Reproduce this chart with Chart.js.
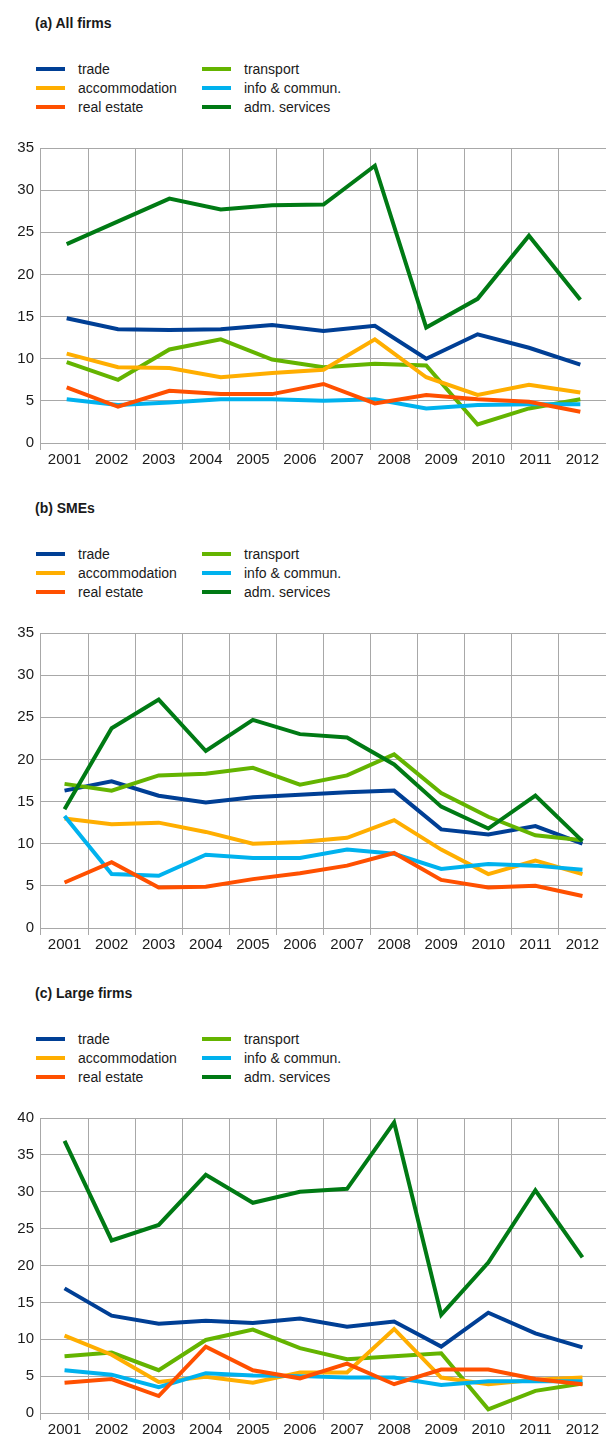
<!DOCTYPE html>
<html>
<head>
<meta charset="utf-8">
<title>Sector shares</title>
<script src="https://cdn.jsdelivr.net/npm/chart.js@4.4.1/dist/chart.umd.min.js"></script>
<style>
  body { margin: 0; width: 606px; background: #fff; font-family: "Liberation Sans", Arial, sans-serif; color: #1a1a1a; }
  .panel { position: relative; height: 485px; }
  .panel h3 { position: absolute; left: 35px; top: 15px; margin: 0; font-size: 14px; line-height: 17px; font-weight: bold; }
  .legend { position: absolute; left: 36px; top: 59px; display: grid; grid-template-columns: 166px 166px; grid-auto-rows: 19px; font-size: 14px; }
  .legend div { display: flex; align-items: center; white-space: nowrap; }
  .legend span { display: inline-block; width: 29px; height: 4px; margin-right: 13px; }
  .chart-box { position: absolute; left: 0; top: 132px; }
</style>
</head>
<body>

<div class="panel">
  <h3>(a) All firms</h3>
  <div class="legend" id="legendA"></div>
  <div class="chart-box"><canvas id="chartA" width="606" height="340"></canvas></div>
</div>
<div class="panel">
  <h3>(b) SMEs</h3>
  <div class="legend" id="legendB"></div>
  <div class="chart-box"><canvas id="chartB" width="606" height="340"></canvas></div>
</div>
<div class="panel">
  <h3>(c) Large firms</h3>
  <div class="legend" id="legendC"></div>
  <div class="chart-box"><canvas id="chartC" width="606" height="340"></canvas></div>
</div>

<script>
const years = ['2001', '2002', '2003', '2004', '2005', '2006', '2007', '2008', '2009', '2010', '2011', '2012'];
// the all-firms series only has 11 points, spread evenly over the axis
const allFirmsSlots = ['1', '2', '3', '4', '5', '6', '7', '8', '9', '10', '11'];

const seriesNames = ['trade', 'transport', 'accommodation', 'info & commun.', 'real estate', 'adm. services'];
const seriesColors = ['#003f95', '#64b400', '#ffae00', '#00b2ee', '#ff5000', '#007a14'];

// (a) All firms
const tradeA = [14.8, 13.5, 13.4, 13.5, 14.0, 13.3, 13.9, 10.0, 12.9, 11.3, 9.3];
const transportA = [9.6, 7.5, 11.1, 12.3, 9.9, 9.0, 9.4, 9.2, 2.2, 4.1, 5.2];
const accommodationA = [10.6, 9.0, 8.9, 7.8, 8.3, 8.7, 12.3, 7.8, 5.7, 6.9, 6.0];
const infoA = [5.2, 4.5, 4.8, 5.2, 5.2, 5.0, 5.2, 4.1, 4.5, 4.6, 4.6];
const realEstateA = [6.6, 4.3, 6.2, 5.8, 5.8, 7.0, 4.7, 5.7, 5.2, 4.9, 3.7];
const admA = [23.6, 26.3, 29.0, 27.7, 28.2, 28.3, 32.9, 13.7, 17.1, 24.6, 17.0];

// (b) SMEs
const tradeB = [16.3, 17.4, 15.7, 14.9, 15.5, 15.8, 16.1, 16.3, 11.7, 11.1, 12.1, 10.0];
const transportB = [17.1, 16.3, 18.1, 18.3, 19.0, 17.0, 18.1, 20.6, 16.0, 13.2, 11.0, 10.4];
const accommodationB = [13.0, 12.3, 12.5, 11.4, 10.0, 10.2, 10.7, 12.8, 9.3, 6.4, 8.0, 6.4];
const infoB = [13.3, 6.4, 6.2, 8.7, 8.3, 8.3, 9.3, 8.8, 7.0, 7.6, 7.4, 6.9];
const realEstateB = [5.4, 7.8, 4.8, 4.9, 5.8, 6.5, 7.4, 8.9, 5.7, 4.8, 5.0, 3.8];
const admB = [14.1, 23.7, 27.1, 21.0, 24.7, 23.0, 22.6, 19.4, 14.4, 11.8, 15.7, 10.3];

// (c) Large firms
const tradeC = [16.9, 13.2, 12.1, 12.5, 12.2, 12.8, 11.7, 12.4, 9.0, 13.6, 10.8, 8.9];
const transportC = [7.7, 8.2, 5.8, 9.9, 11.3, 8.8, 7.3, 7.7, 8.1, 0.5, 3.0, 4.0];
const accommodationC = [10.5, 7.9, 4.2, 4.9, 4.1, 5.5, 5.5, 11.4, 4.8, 3.9, 4.5, 4.8];
const infoC = [5.8, 5.2, 3.5, 5.4, 5.1, 5.0, 4.8, 4.8, 3.8, 4.3, 4.3, 4.3];
const realEstateC = [4.1, 4.6, 2.3, 9.0, 5.8, 4.7, 6.7, 3.9, 5.9, 5.9, 4.6, 3.9];
const admC = [36.9, 23.4, 25.5, 32.3, 28.5, 30.0, 30.4, 39.4, 13.3, 20.4, 30.2, 21.1];

Chart.defaults.font.family = '"Liberation Sans", Arial, sans-serif';
Chart.defaults.color = '#1a1a1a';

const gridColor = '#a8a8a8';

function drawPanel(canvasId, legendId, series, yMax, slots) {
  const ctx = document.getElementById(canvasId).getContext('2d');

  const datasets = series.map((values, i) => ({
    label: seriesNames[i],
    data: values,
    borderColor: seriesColors[i],
    backgroundColor: seriesColors[i],
    borderWidth: 4,
    pointRadius: 0,
    tension: 0,
    fill: false,
    order: -i, // later series on top
    xAxisID: slots ? 'xs' : 'x'
  }));

  const scales = {
    x: {
      type: 'category',
      labels: years,
      offset: true,
      grid: { offset: true, color: gridColor, tickLength: 7 },
      border: { display: false },
      ticks: { font: { size: 15 }, padding: 1, maxRotation: 0, autoSkip: false },
      afterFit: scale => { scale.height = 29; }
    },
    y: {
      min: 0,
      max: yMax,
      ticks: { stepSize: 5, font: { size: 15 }, padding: 7 },
      grid: { color: gridColor, drawTicks: false },
      border: { display: false },
      afterFit: scale => { scale.width = 41; }
    }
  };
  if (slots) {
    scales.xs = { type: 'category', labels: slots, offset: true, display: false };
  }

  const chart = new Chart(ctx, {
    type: 'line',
    data: { datasets },
    options: {
      responsive: false,
      animation: false,
      layout: { padding: { top: 10, right: 0, bottom: 0, left: 0 } },
      scales,
      plugins: {
        legend: { display: false },
        tooltip: { enabled: false }
      }
    }
  });

  // legend in two columns, same order as the series
  const legendEl = document.getElementById(legendId);
  chart.data.datasets.forEach(ds => {
    const item = document.createElement('div');
    item.innerHTML = `<span style="background:${ds.borderColor}"></span>${ds.label}`;
    legendEl.appendChild(item);
  });
}

drawPanel('chartA', 'legendA', [tradeA, transportA, accommodationA, infoA, realEstateA, admA], 35, allFirmsSlots);
drawPanel('chartB', 'legendB', [tradeB, transportB, accommodationB, infoB, realEstateB, admB], 35);
drawPanel('chartC', 'legendC', [tradeC, transportC, accommodationC, infoC, realEstateC, admC], 40);
</script>
</body>
</html>
